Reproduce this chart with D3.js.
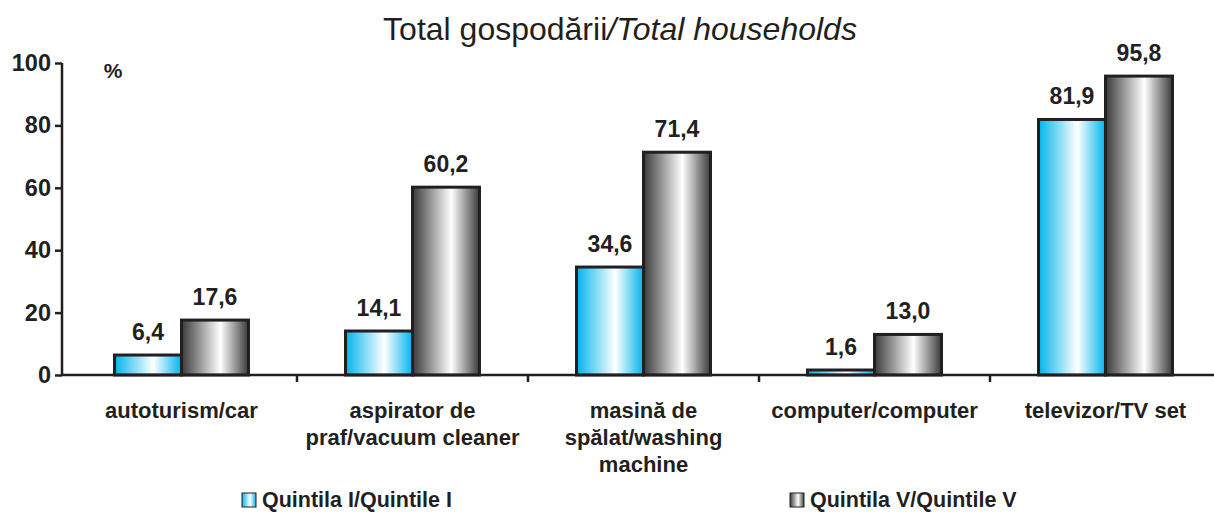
<!DOCTYPE html>
<html>
<head>
<meta charset="utf-8">
<script src="https://cdn.jsdelivr.net/npm/d3@7/dist/d3.min.js"></script>
<style>
  body { margin: 0; background: #fff; }
  text { font-family: "Liberation Sans", Arial, sans-serif; fill: #231f20; }
</style>
</head>
<body>
<svg id="chart" width="1214" height="513"></svg>
<script>
var categories = [
    ["autoturism/car"],
    ["aspirator de", "praf/vacuum cleaner"],
    ["masină de", "spălat/washing", "machine"],
    ["computer/computer"],
    ["televizor/TV set"]
];
var seriesNames = ["Quintila I/Quintile I", "Quintila V/Quintile V"];
var quintile1 = [6.4, 14.1, 34.6, 1.6, 81.9];
var quintile5 = [17.6, 60.2, 71.4, 13.0, 95.8];
var yTicks = [0, 20, 40, 60, 80, 100];

var svg = d3.select("#chart");
var ink = "#231f20";

var defs = svg.append("defs");
var addGradient = function(id, edge, mid) {
    var g = defs.append("linearGradient").attr("id", id)
        .attr("x1", "0%").attr("x2", "100%").attr("y1", "0%").attr("y2", "0%");
    g.append("stop").attr("offset", "0%").attr("stop-color", edge);
    g.append("stop").attr("offset", "58%").attr("stop-color", mid);
    g.append("stop").attr("offset", "100%").attr("stop-color", edge);
};
addGradient("gradBlue", "#00b4ec", "#ffffff");
addGradient("gradGray", "#3a3a3c", "#ffffff");
var fills = ["url(#gradBlue)", "url(#gradGray)"];

var x0 = d3.scaleBand()
    .domain(d3.range(categories.length))
    .range([66, 1221])
    .paddingInner(0.42)
    .paddingOuter(0.21);
var x1 = d3.scaleBand()
    .domain([0, 1])
    .range([0, x0.bandwidth()]);
var y = d3.scaleLinear().domain([0, 100]).range([375, 63]);

// title
var title = svg.append("text")
    .attr("x", 620).attr("y", 40)
    .attr("text-anchor", "middle")
    .style("font-size", "32px");
title.append("tspan").text("Total gospodării");
title.append("tspan").style("font-style", "italic").text("/Total households");

// y axis
var yAxis = svg.append("g")
    .attr("transform", "translate(62,0)")
    .call(d3.axisLeft(y).tickValues(yTicks).tickSize(7).tickPadding(4));
yAxis.select(".domain").attr("stroke", ink).attr("stroke-width", 2.5).attr("d", "M0," + y(100) + "V" + y(0));
yAxis.selectAll(".tick line").attr("stroke", ink).attr("stroke-width", 2.5);
yAxis.selectAll(".tick text")
    .style("font-size", "23.5px").style("font-weight", "bold")
    .style("font-family", "'Liberation Sans', Arial, sans-serif")
    .attr("fill", ink);

svg.append("text")
    .attr("x", 113).attr("y", 78)
    .attr("text-anchor", "middle")
    .style("font-size", "21px").style("font-weight", "bold")
    .text("%");

// bars
var rows = categories.map(function(c, i) { return [quintile1[i], quintile5[i]]; });
var groups = svg.selectAll(".cat")
    .data(rows)
  .enter()
    .append("g")
    .attr("class", "cat")
    .attr("transform", function(d, i) { return "translate(" + x0(i) + ",0)"; });

groups.selectAll("rect")
    .data(function(d) { return d; })
  .enter()
    .append("rect")
    .attr("x", function(d, i) { return x1(i); })
    .attr("y", function(d) { return y(d); })
    .attr("width", x1.bandwidth())
    .attr("height", function(d) { return y(0) - y(d); })
    .attr("fill", function(d, i) { return fills[i]; })
    .attr("stroke", ink)
    .attr("stroke-width", 3);

groups.selectAll(".val")
    .data(function(d) { return d; })
  .enter()
    .append("text")
    .attr("class", "val")
    .attr("x", function(d, i) { return x1(i) + x1.bandwidth() / 2; })
    .attr("y", function(d) { return y(d) - 15; })
    .attr("text-anchor", "middle")
    .style("font-size", "23px").style("font-weight", "bold")
    .text(function(d) { return d.toFixed(1).replace(".", ","); });

// x axis
var xAxis = svg.append("g");
xAxis.append("line")
    .attr("x1", 62).attr("x2", 1214)
    .attr("y1", y(0)).attr("y2", y(0))
    .attr("stroke", ink).attr("stroke-width", 2.5);
xAxis.selectAll(".xtick")
    .data(d3.range(1, categories.length))
  .enter()
    .append("line")
    .attr("x1", function(i) { return x0(i) - x0.step() * x0.paddingInner() / 2; })
    .attr("x2", function(i) { return x0(i) - x0.step() * x0.paddingInner() / 2; })
    .attr("y1", y(0)).attr("y2", y(0) + 7)
    .attr("stroke", ink).attr("stroke-width", 2.5);

var labels = svg.selectAll(".xlab")
    .data(categories)
  .enter()
    .append("text")
    .attr("class", "xlab")
    .attr("text-anchor", "middle")
    .style("font-size", "22px").style("font-weight", "bold");
labels.each(function(lines, i) {
    var t = d3.select(this);
    lines.forEach(function(line, k) {
        t.append("tspan")
            .attr("x", x0(i) + x0.bandwidth() / 2)
            .attr("y", 418 + k * 27)
            .text(line);
    });
});

// legend
var legendX = [242, 790];
var legend = svg.selectAll(".legend")
    .data(seriesNames)
  .enter()
    .append("g")
    .attr("class", "legend")
    .attr("transform", function(d, i) { return "translate(" + legendX[i] + ",493)"; });
legend.append("rect")
    .attr("width", 14).attr("height", 14)
    .attr("fill", function(d, i) { return fills[i]; })
    .attr("stroke", ink).attr("stroke-width", 1);
legend.append("text")
    .attr("x", 20).attr("y", 14)
    .style("font-size", "21.5px").style("font-weight", "bold")
    .text(function(d) { return d; });
</script>
</body>
</html>
